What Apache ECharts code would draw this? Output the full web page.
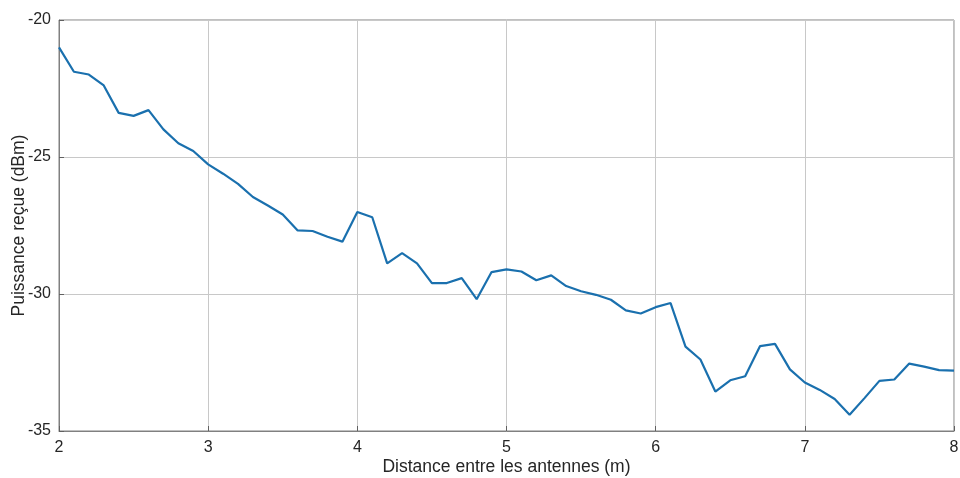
<!DOCTYPE html>
<html>
<head>
<meta charset="utf-8">
<script src="https://cdn.jsdelivr.net/npm/echarts@6/dist/echarts.min.js"></script>
<style>
    html, body { margin: 0; padding: 0; background: #fff; }
    #chart { width: 960px; height: 478px; }
</style>
</head>
<body>
<div id="chart"></div>
<script>
    // distance (m), pas de 0.1
    var distances = [];
    for (var i = 0; i <= 60; i++) { distances.push(+(2 + i / 10).toFixed(1)); }
    // puissance reçue (dBm)
    var puissance = [
        -21.00, -21.89, -21.99, -22.39, -23.39, -23.50, -23.29, -23.99, -24.50, -24.78,
        -25.27, -25.61, -25.98, -26.46, -26.77, -27.10, -27.68, -27.70, -27.91, -28.09,
        -27.01, -27.20, -28.88, -28.51, -28.88, -29.60, -29.60, -29.42, -30.19, -29.20,
        -29.10, -29.18, -29.50, -29.32, -29.71, -29.90, -30.03, -30.21, -30.60, -30.71,
        -30.48, -30.33, -31.92, -32.39, -33.56, -33.15, -33.00, -31.90, -31.82, -32.75,
        -33.23, -33.50, -33.83, -34.41, -33.80, -33.17, -33.12, -32.54, -32.65, -32.78,
        -32.80
    ];
    var xTicks = [2, 3, 4, 5, 6, 7, 8];
    var yTicks = [-35, -30, -25, -20];

    var chart = echarts.init(document.getElementById('chart'));
    var tick = {color: '#262626', fontFamily: 'Liberation Sans', fontSize: 16};
    var nom = {color: '#262626', fontFamily: 'Liberation Sans', fontSize: 17.5};
    var option = {
        animation: false,
        grid: {
            left: 59, right: 6, top: 20, bottom: 47,
            outerBoundsMode: 'none',
            containLabel: false,
            show: true,
            borderColor: '#808080',
            borderWidth: 1
        },
        xAxis: {
            type: 'value',
            min: xTicks[0], max: xTicks[xTicks.length - 1], interval: 1,
            name: 'Distance entre les antennes (m)',
            nameLocation: 'middle', nameGap: 27,
            nameMoveOverlap: false,
            nameTextStyle: nom,
            axisLine: {show: true, lineStyle: {color: '#808080'}},
            axisTick: {show: true, inside: true, length: 5, lineStyle: {color: '#606060'}},
            axisLabel: Object.assign({margin: 9}, tick),
            splitLine: {show: true, lineStyle: {color: '#c8c8c8', width: 1}}
        },
        yAxis: {
            type: 'value',
            min: yTicks[0], max: yTicks[yTicks.length - 1], interval: 5,
            name: 'Puissance reçue (dBm)',
            nameLocation: 'middle', nameGap: 31, nameRotate: 90,
            nameMoveOverlap: false,
            nameTextStyle: nom,
            axisLine: {show: true, lineStyle: {color: '#808080'}},
            axisTick: {show: true, inside: true, length: 5, lineStyle: {color: '#606060'}},
            axisLabel: Object.assign({margin: 8}, tick),
            splitLine: {show: true, lineStyle: {color: '#c8c8c8', width: 1}}
        },
        series: [{
            type: 'line',
            data: distances.map(function (d, i) { return [d, puissance[i]]; }),
            showSymbol: false,
            lineStyle: {color: '#1a70ae', width: 2.2},
            itemStyle: {color: '#1a70ae'}
        }]
    };
    chart.setOption(option);
</script>
</body>
</html>
